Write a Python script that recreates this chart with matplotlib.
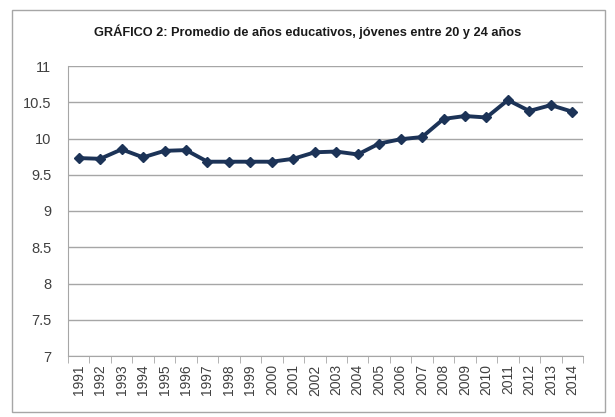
import matplotlib
matplotlib.use("Agg")
import matplotlib.pyplot as plt
from matplotlib.patches import Rectangle

years = [str(y) for y in range(1991, 2015)]
values = [9.73, 9.72, 9.85, 9.74, 9.83, 9.84, 9.68, 9.68, 9.68, 9.68, 9.72, 9.81,
          9.82, 9.78, 9.93, 9.99, 10.02, 10.27, 10.31, 10.29, 10.53, 10.38, 10.46, 10.37]
yticks = [7, 7.5, 8, 8.5, 9, 9.5, 10, 10.5, 11]
title = "GRÁFICO 2: Promedio de años educativos, jóvenes entre 20 y 24 años"

plt.rcParams['font.family'] = ['Liberation Sans Narrow', 'Liberation Sans', 'DejaVu Sans']

fig = plt.figure(figsize=(6.15, 4.17), dpi=100)
fig.patches.append(Rectangle((12 / 615, 1 - 412 / 417), (605 - 12) / 615, (412 - 10) / 417,
                             transform=fig.transFigure, fill=False, edgecolor='#a6a6a6', lw=1))
ax = fig.add_axes([68 / 615, 1 - 356 / 417, (583 - 68) / 615, (356 - 66) / 417])

x = list(range(len(years)))
ax.plot(x, values, color='#1c3357', lw=2.8, marker='D', markersize=5.5,
        markerfacecolor='#1c3357', markeredgecolor='#1c3357')
ax.set_xlim(-0.5, len(years) - 0.5)
ax.set_ylim(7, 11)
ax.set_yticks(yticks)
ax.set_yticklabels([f"{v:g}" for v in yticks], fontsize=10.5, color='#404040')
ax.yaxis.grid(True, color='#a6a6a6', lw=1)
ax.set_axisbelow(True)
ax.tick_params(axis='y', length=0, pad=12)
ax.set_xticks(x)
ax.set_xticklabels(years, rotation=90, fontsize=10, color='#404040')
ax.set_xticks([i - 0.5 for i in range(len(years) + 1)], minor=True)
ax.tick_params(axis='x', which='major', length=0, pad=6)
ax.tick_params(axis='x', which='minor', length=5, color='#a6a6a6', direction='out')
for s in ['top', 'right']:
    ax.spines[s].set_visible(False)
ax.spines['left'].set_color('#a6a6a6')
ax.spines['bottom'].set_color('#a6a6a6')

fig.text(0.5, 1 - 32 / 417, title, ha='center', va='center', fontsize=9.2,
         fontweight='bold', color='#1a1a1a')

fig.savefig('out.png', dpi=100)
